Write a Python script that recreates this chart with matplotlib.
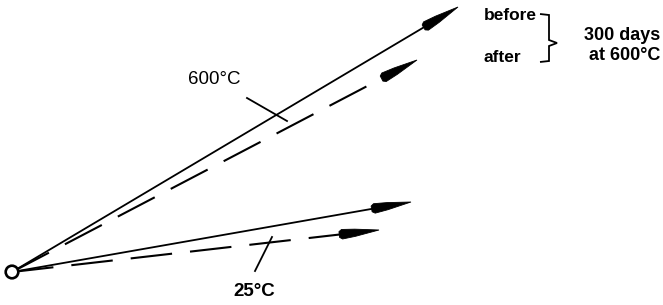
import numpy as np
import matplotlib
matplotlib.use("Agg")
import matplotlib.pyplot as plt
from matplotlib.patches import Polygon, Circle, PathPatch
from matplotlib.path import Path

plt.rcParams['font.family'] = ['Liberation Sans', 'DejaVu Sans']
plt.rcParams['lines.scale_dashes'] = False

# vector tips measured from the common origin (pixel-like units, y up)
temps = ['600°C', '600°C', '25°C', '25°C']
states = ['before', 'after', 'before', 'after']
tip_x = [446, 405, 399, 367]
tip_y = [265, 212, 70, 42]

fig = plt.figure(figsize=(6.63, 3.05), dpi=100)
ax = fig.add_axes([0, 0, 1, 1])
ax.set_xlim(-12, 651)
ax.set_ylim(-33, 272)
ax.set_aspect('equal')
ax.axis('off')


def head(ax, tx, ty, L=40, w=4.8):
    u = np.array([tx, ty], float)
    u /= np.hypot(*u)
    n = np.array([-u[1], u[0]])
    tip = np.array([tx, ty], float)
    pts = [tip,
           tip - u * L * 0.6 + n * w * 0.75,
           tip - u * L * 0.93 + n * w,
           tip - u * L + n * w * 0.6,
           tip - u * L - n * w * 0.6,
           tip - u * L * 0.93 - n * w,
           tip - u * L * 0.6 - n * w * 0.75]
    ax.add_patch(Polygon(pts, closed=True, fc='k', ec='k', lw=0.6, zorder=3))
    return tip - u * L * 0.95


for tx, ty, st in zip(tip_x, tip_y, states):
    end = head(ax, tx, ty)
    if st == 'before':
        ax.plot([0, end[0]], [0, end[1]], color='k', lw=1.3, solid_capstyle='butt')
    else:
        ax.plot([0, end[0]], [0, end[1]], color='k', lw=1.5,
                dashes=(30, 13), dash_capstyle='butt')

ax.add_patch(Circle((0, 0), 6.3, fc='white', ec='k', lw=1.9, zorder=4))

# leader lines and temperature labels
ax.plot([235, 275], [174, 151], color='k', lw=1.3)
ax.text(202, 192, '600°C', fontsize=13.5, ha='center', va='center')
ax.plot([260, 243], [35, 1], color='k', lw=1.3)
ax.text(242, -19, '25°C', fontsize=13.5, ha='center', va='center', fontweight='bold')

# annotation at upper right
ax.text(472, 257, 'before', fontsize=12.5, ha='left', va='center', fontweight='bold')
ax.text(472, 215, 'after', fontsize=12.5, ha='left', va='center', fontweight='bold')
ax.text(648, 237, '300 days', fontsize=13, ha='right', va='center', fontweight='bold')
ax.text(648, 216, 'at 600°C', fontsize=13, ha='right', va='center', fontweight='bold')

brace = [(540, 14), (549, 15), (549, 40), (557, 43), (549, 46), (549, 61), (540, 62)]
brace = [(x - 12, 272 - y) for x, y in brace]
ax.add_patch(PathPatch(Path(brace), fc='none', ec='k', lw=1.3))

fig.savefig('out.png', dpi=100)
